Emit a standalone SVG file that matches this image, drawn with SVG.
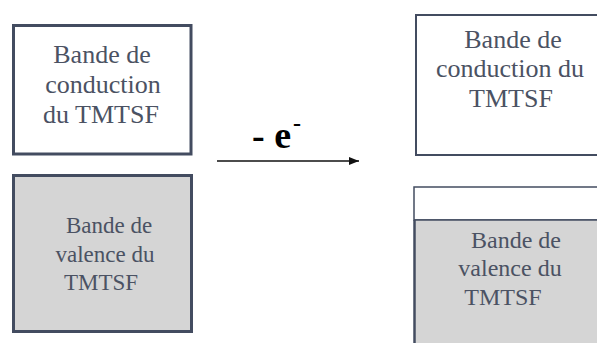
<svg xmlns="http://www.w3.org/2000/svg" width="597" height="345" viewBox="0 0 597 345">
  <defs>
    <style>
      .box { fill: #ffffff; stroke: #434c60; }
      .grey { fill: #d5d5d5; stroke: #434c60; }
      .greyfill { fill: #d5d5d5; stroke: none; }
      .edge { stroke: #434c60; fill: none; }
      text { font-family: 'Liberation Serif', 'DejaVu Serif', 'Times New Roman', Times, serif; }
      .lbl { font-size: 26px; fill: #4b5263; text-anchor: middle; }
      .lbl2 { font-size: 23px; fill: #4b5263; text-anchor: middle; }
      .lbl3 { font-size: 24px; fill: #4b5263; text-anchor: middle; }
      .conn { stroke: #111111; stroke-width: 1.3; fill: none; }
      .eq { font-weight: bold; font-size: 38px; fill: #000000; }
    </style>
    <marker id="arrow" markerWidth="10" markerHeight="8" refX="10" refY="4" orient="auto" markerUnits="userSpaceOnUse">
      <path d="M0,0 L10,4 L0,8 Z" fill="#111111"/>
    </marker>
  </defs>

  <g id="cond-left">
    <rect class="box" x="13.5" y="25.5" width="177.5" height="128.5" stroke-width="3"/>
    <text class="lbl" x="102" y="63">Bande de</text>
    <text class="lbl" x="103" y="93">conduction</text>
    <text class="lbl" x="101" y="123">du TMTSF</text>
  </g>

  <g id="val-left">
    <rect class="grey" x="13.5" y="175.5" width="178" height="156" stroke-width="3"/>
    <text class="lbl2" x="109" y="233">Bande de</text>
    <text class="lbl2" x="105" y="262">valence du</text>
    <text class="lbl2" x="101" y="290">TMTSF</text>
  </g>

  <g id="cond-right">
    <rect class="box" x="416" y="15" width="190" height="140" stroke-width="2"/>
    <text class="lbl" x="513" y="48">Bande de</text>
    <text class="lbl" x="510" y="77">conduction du</text>
    <text class="lbl" x="511" y="107">TMTSF</text>
  </g>

  <g id="val-right">
    <rect class="box" x="414" y="187" width="190" height="33" stroke-width="1.5"/>
    <rect class="greyfill" x="414" y="220" width="183" height="123"/>
    <line class="edge" x1="414.5" y1="220" x2="414.5" y2="343" stroke-width="2.5"/>
    <line class="edge" x1="414" y1="220" x2="597" y2="220" stroke-width="1.5"/>
    <text class="lbl3" x="516" y="248">Bande de</text>
    <text class="lbl3" x="510" y="276">valence du</text>
    <text class="lbl3" x="503" y="305">TMTSF</text>
  </g>

  <g id="connectors">
    <line class="conn" x1="217" y1="161" x2="359" y2="161" marker-end="url(#arrow)"/>
    <text class="eq" x="252" y="148">- e<tspan font-size="24" dx="2" dy="-17">-</tspan></text>
  </g>
</svg>
